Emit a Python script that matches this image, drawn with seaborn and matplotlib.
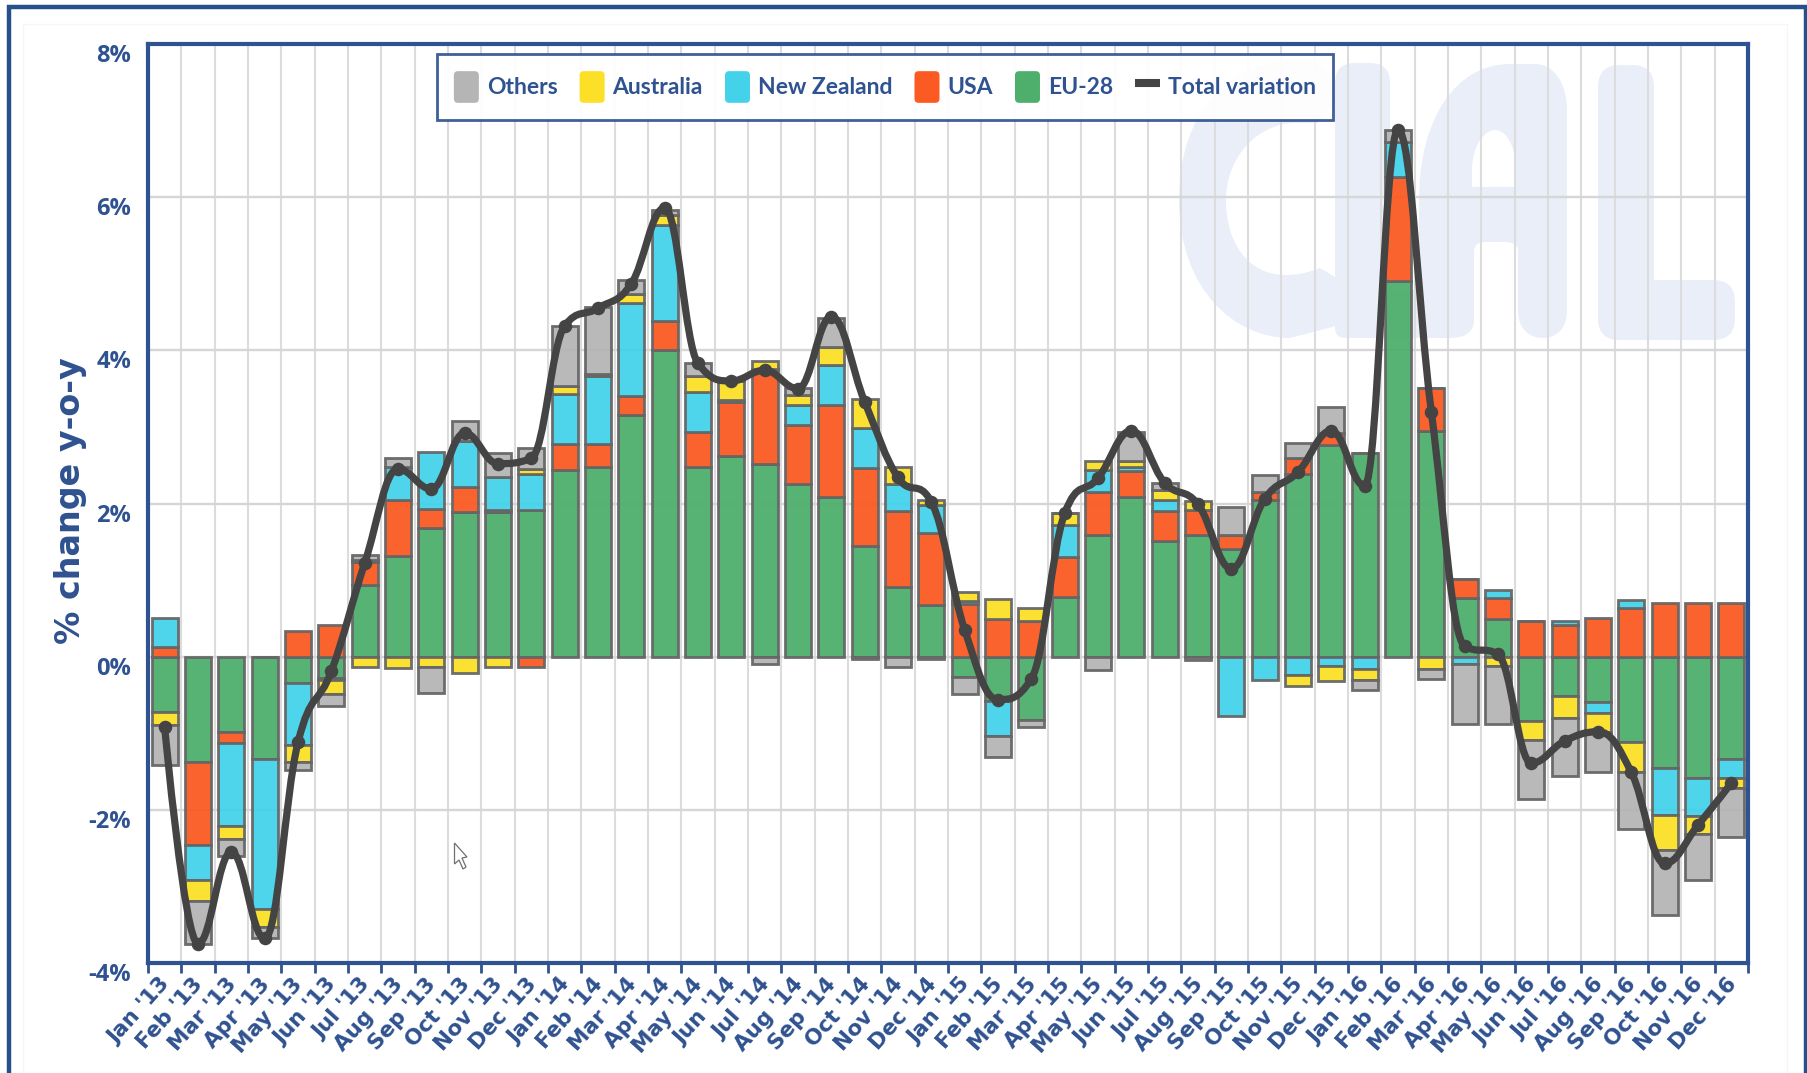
import numpy as np
import matplotlib
matplotlib.use("Agg")
import matplotlib.pyplot as plt
import seaborn as sns
from matplotlib.font_manager import FontProperties
from matplotlib.legend_handler import HandlerPatch
from matplotlib.lines import Line2D
from matplotlib.patches import FancyBboxPatch, Patch, PathPatch, Polygon, Rectangle
from matplotlib.path import Path
from matplotlib.transforms import IdentityTransform, ScaledTranslation

W, H = 1808, 1073
BLUE = "#2F5290"
WATERMARK = "#E9EEF9"

names = ["Jan", "Feb", "Mar", "Apr", "May", "Jun", "Jul", "Aug", "Sep", "Oct", "Nov", "Dec"]
months = [f"{m} '{y}" for y in (13, 14, 15, 16) for m in names]

eu = [-0.72, -1.37, -0.98, -1.34, -0.35, -0.28, 0.94, 1.32, 1.68, 1.89, 1.89, 1.92,
      2.44, 2.48, 3.15, 4.00, 2.48, 2.62, 2.51, 2.26, 2.09, 1.45, 0.91, 0.67,
      -0.27, -0.58, -0.83, 0.78, 1.59, 2.08, 1.51, 1.59, 1.41, 2.04, 2.39, 2.77,
      2.66, 4.90, 2.95, 0.77, 0.49, -0.84, -0.52, -0.59, -1.12, -1.45, -1.59, -1.33]
usa = [0.13, -1.09, -0.15, 0.00, 0.34, 0.41, 0.30, 0.72, 0.25, 0.32, 0.02, -0.14,
       0.34, 0.30, 0.26, 0.38, 0.46, 0.70, 1.24, 0.77, 1.19, 1.02, 0.99, 0.95,
       0.69, 0.49, 0.46, 0.52, 0.56, 0.35, 0.39, 0.32, 0.18, 0.11, 0.21, 0.15,
       0.00, 1.36, 0.56, 0.25, 0.27, 0.46, 0.41, 0.50, 0.63, 0.70, 0.70, 0.70]
nz = [0.37, -0.46, -1.08, -1.96, -0.80, -0.03, 0.02, 0.44, 0.74, 0.60, 0.43, 0.47,
      0.65, 0.89, 1.21, 1.26, 0.52, 0.03, 0.00, 0.26, 0.53, 0.52, 0.35, 0.36,
      0.04, -0.46, 0.00, 0.42, 0.29, 0.05, 0.14, 0.01, -0.77, -0.31, -0.24, -0.12,
      -0.16, 0.46, 0.00, -0.09, 0.11, 0.00, 0.05, -0.15, 0.11, -0.62, -0.49, -0.25]
aus = [-0.17, -0.27, -0.17, -0.23, -0.22, -0.18, -0.14, -0.15, -0.13, -0.21, -0.14, 0.06,
       0.11, 0.02, 0.11, 0.13, 0.21, 0.25, 0.11, 0.13, 0.24, 0.37, 0.23, 0.07,
       0.11, 0.26, 0.17, 0.16, 0.11, 0.07, 0.13, 0.11, 0.00, 0.00, -0.14, -0.20,
       -0.14, 0.00, -0.16, 0.00, -0.12, -0.25, -0.28, -0.25, -0.38, -0.45, -0.23, -0.14]
others = [-0.53, -0.56, -0.22, -0.15, -0.11, -0.15, 0.07, 0.11, -0.34, 0.27, 0.32, 0.28,
          0.78, 0.87, 0.19, 0.06, 0.16, 0.03, -0.10, 0.09, 0.37, -0.03, -0.14, -0.03,
          -0.22, -0.27, -0.09, 0.00, -0.17, 0.39, 0.10, -0.04, 0.36, 0.22, 0.19, 0.34,
          -0.13, 0.16, -0.13, -0.79, -0.76, -0.77, -0.76, -0.52, -0.75, -0.85, -0.60, -0.63]
total = [-0.92, -3.75, -2.55, -3.68, -1.12, -0.19, 1.22, 2.45, 2.19, 2.92, 2.52, 2.59,
         4.32, 4.55, 4.87, 5.86, 3.83, 3.60, 3.74, 3.50, 4.44, 3.33, 2.34, 2.02,
         0.35, -0.56, -0.29, 1.87, 2.33, 2.95, 2.27, 1.99, 1.15, 2.06, 2.41, 2.95,
         2.23, 6.88, 3.20, 0.14, 0.03, -1.39, -1.10, -0.98, -1.51, -2.70, -2.20, -1.65]
y_ticks = [-4, -2, 0, 2, 4, 6, 8]

# stacked outward from zero, EU first
series = [("EU-28", eu, "#4EAF6C"), ("USA", usa, "#FB5B22"), ("New Zealand", nz, "#44D2EA"),
          ("Australia", aus, "#FBE027"), ("Others", others, "#B5B5B5")]


def spline_path(xs, ys):
    # same control points as a highcharts spline
    n = len(xs)
    left = [(xs[0], ys[0])] * n
    right = [(xs[0], ys[0])] * n
    for i in range(n):
        x, y = xs[i], ys[i]
        if i == 0 or i == n - 1:
            left[i] = right[i] = (x, y)
            continue
        lx = (1.5 * x + xs[i - 1]) / 2.5
        ly = (1.5 * y + ys[i - 1]) / 2.5
        rx = (1.5 * x + xs[i + 1]) / 2.5
        ry = (1.5 * y + ys[i + 1]) / 2.5
        corr = (ry - ly) * (rx - x) / (rx - lx) + y - ry
        ly += corr
        ry += corr
        if ly > ys[i - 1] and ly > y:
            ly = max(ys[i - 1], y)
            ry = 2 * y - ly
        elif ly < ys[i - 1] and ly < y:
            ly = min(ys[i - 1], y)
            ry = 2 * y - ly
        if ry > ys[i + 1] and ry > y:
            ry = max(ys[i + 1], y)
            ly = 2 * y - ry
        elif ry < ys[i + 1] and ry < y:
            ry = min(ys[i + 1], y)
            ly = 2 * y - ry
        left[i] = (lx, ly)
        right[i] = (rx, ry)
    verts = [(xs[0], ys[0])]
    codes = [Path.MOVETO]
    for i in range(1, n):
        verts += [right[i - 1], left[i], (xs[i], ys[i])]
        codes += [Path.CURVE4] * 3
    return Path(verts, codes)


class RoundHandler(HandlerPatch):
    def create_artists(self, legend, orig, xd, yd, width, height, fontsize, trans):
        r = 3.0
        p = FancyBboxPatch((-xd + r, -yd + r), width - 2 * r, height - 2 * r,
                           boxstyle=f"round,pad={r},rounding_size={r}",
                           fc=orig.get_facecolor(), ec="none", transform=trans)
        return [p]


def rbox(x0, y0, x1, y1, r):
    # watermark piece, in picture pixels from the top left
    return FancyBboxPatch((x0 + r, H - y1 + r), x1 - x0 - 2 * r, y1 - y0 - 2 * r,
                          boxstyle=f"round,pad={r},rounding_size={r}", fc=WATERMARK, ec="none",
                          transform=IdentityTransform(), zorder=0, clip_on=False)


def blob(segments, colour, z=0):
    # M/L/C segments in picture pixels
    verts, codes = [], []
    for seg in segments:
        if len(seg) == 1:
            verts += seg
            codes += [Path.LINETO if verts[:-1] else Path.MOVETO]
        else:
            verts += seg
            codes += [Path.CURVE4] * 3
    verts = [(x, H - y) for x, y in verts]
    verts.append(verts[0])
    codes.append(Path.CLOSEPOLY)
    return PathPatch(Path(verts, codes), fc=colour, ec="none", transform=IdentityTransform(),
                     zorder=z, clip_on=False)


sns.set_style("white")
plt.rcParams["font.family"] = ["Open Sans", "DejaVu Sans"]

fig = plt.figure(figsize=(W / 100, H / 100), dpi=100)
ax = fig.add_axes([148 / W, 1 - 963 / H, (1748 - 148) / W, 919 / H])
ax.set_facecolor("none")

# screenshot frames
fig.patches.append(Rectangle((23, -5), 1787 - 23, 1073 - 21 + 5 - 3, transform=IdentityTransform(),
                             fill=False, ec="#F6F6F6", lw=1))
fig.patches.append(Rectangle((9, -20), 1806 - 9, 1073 - 7 + 20, transform=IdentityTransform(),
                             fill=False, ec="#25508A", lw=3.2))

# CIAL watermark
ax.add_patch(blob([[(1300, 60)], [(1230, 60), (1179, 110), (1179, 200)], [(1179, 290), (1235, 338), (1290, 338)],
                   [(1340, 325)], [(1340, 280)], [(1320, 268)], [(1305, 274), (1295, 275), (1285, 275)],
                   [(1250, 275), (1226, 245), (1226, 200)], [(1226, 155), (1260, 123), (1295, 123)],
                   [(1318, 123)], [(1335, 100)], [(1335, 75), (1325, 60), (1300, 60)]], WATERMARK))
ax.add_patch(rbox(1335, 63, 1390, 338, 20))
ax.add_patch(rbox(1335, 290, 1430, 338, 10))
ax.add_patch(blob([[(1419, 320)], [(1419, 200)], [(1419, 120), (1455, 64), (1510, 64)], [(1535, 64)],
                   [(1555, 64), (1567, 85), (1567, 110)], [(1567, 310)], [(1567, 330), (1555, 338), (1543, 338)],
                   [(1530, 338), (1518, 330), (1518, 310)], [(1518, 250)], [(1518, 245), (1512, 242), (1505, 242)],
                   [(1485, 242)], [(1478, 242), (1474, 245), (1474, 252)], [(1474, 320)],
                   [(1474, 332), (1465, 338), (1450, 338)], [(1419, 338)]], WATERMARK))
ax.add_patch(blob([[(1472, 187)], [(1472, 170)], [(1472, 145), (1485, 130), (1495, 130)],
                   [(1508, 130), (1516, 150), (1516, 170)], [(1516, 187)]], "white", z=0.5))
ax.add_patch(rbox(1598, 65, 1654, 340, 22))
ax.add_patch(rbox(1598, 280, 1735, 340, 22))

# stacked bars
pos = np.zeros(len(months))
neg = np.zeros(len(months))
for label, values, colour in series:
    values = np.array(values)
    bottom = np.where(values >= 0, pos, neg)
    sns.barplot(x=months, y=values, bottom=bottom, order=months, color=colour, saturation=1,
                width=0.78, edgecolor="#666666", linewidth=2, alpha=0.95, errorbar=None,
                zorder=2, ax=ax)
    pos = pos + np.clip(values, 0, None)
    neg = neg + np.clip(values, None, 0)

xs = list(range(len(months)))
ax.add_patch(PathPatch(spline_path(xs, total), fill=False, ec="#444444", lw=5.2, capstyle="round", zorder=4))
sns.scatterplot(x=months, y=total, color="#444444", s=95, linewidth=0, zorder=5, ax=ax, legend=False)

ax.set_xlim(-0.5, len(months) - 0.5)
ax.set_ylim(-4, 8)
ax.set_xlabel("")
ax.set_ylabel("% change y-o-y", fontsize=24, fontweight="bold", color=BLUE, family="DejaVu Sans", va="center")
ax.yaxis.set_label_coords((71 - 148) / (1748 - 148), (963 - 501) / 919)

ax.set_yticks(y_ticks, [f"{v}%" for v in y_ticks])
for lab in ax.get_yticklabels():
    lab.set_va("top")
    lab.set_fontweight("bold")
    lab.set_fontsize(17)
    lab.set_color(BLUE)
ax.tick_params(axis="y", length=0, pad=12)

ax.set_xticks(xs, months, rotation=48, ha="right", rotation_mode="anchor",
              fontsize=15.5, fontweight="bold", color=BLUE, family="DejaVu Sans")
ax.set_xticks(np.arange(-0.5, len(months)), minor=True)
ax.tick_params(axis="x", which="major", length=0, pad=8)
ax.tick_params(axis="x", which="minor", length=7, width=2, color=BLUE, direction="out", bottom=True)
for lab in ax.get_xticklabels():
    lab.set_transform(lab.get_transform() + ScaledTranslation(-0.06, 0, fig.dpi_scale_trans))

ax.grid(True, axis="y", which="major", color="#D6D6D6", lw=1.7, zorder=1)
ax.grid(True, axis="x", which="minor", color="#DCDCDC", lw=1.5, zorder=1)
ax.grid(False, axis="x", which="major")
ax.set_axisbelow(True)
for spine in ax.spines.values():
    spine.set_visible(True)
    spine.set_color(BLUE)
    spine.set_linewidth(3)
    spine.set_zorder(6)

# legend
handles = [Patch(fc=c, label=n) for n, _, c in reversed(series)]
handles.append(Line2D([], [], color="#444444", lw=5.8, solid_capstyle="butt", label="Total variation"))
leg = ax.legend(handles=handles, ncols=6, loc="center", bbox_to_anchor=(885 / W, 1 - 87 / H),
                bbox_transform=fig.transFigure, frameon=True, fancybox=False, framealpha=0.92,
                edgecolor=BLUE, handlelength=1.09, handleheight=1.75, handletextpad=0.35,
                columnspacing=0.96, borderpad=0.75, borderaxespad=0,
                prop=FontProperties(family="Lato", weight="bold", size=16.5),
                handler_map={Patch: RoundHandler()})
leg.get_frame().set_linewidth(2)
leg.set_zorder(7)
for t in leg.get_texts():
    t.set_color(BLUE)

# mouse pointer in the screenshot
ax.add_patch(Polygon([(454.5, 1073 - 843), (454.5, 1073 - 864), (459, 1073 - 860), (463, 1073 - 869),
                      (466, 1073 - 867), (462, 1073 - 858), (467, 1073 - 857)],
                     closed=True, fc="white", ec="#707070", lw=0.9,
                     transform=IdentityTransform(), zorder=3, clip_on=False))

fig.savefig("out.png", dpi=100, facecolor="white")
